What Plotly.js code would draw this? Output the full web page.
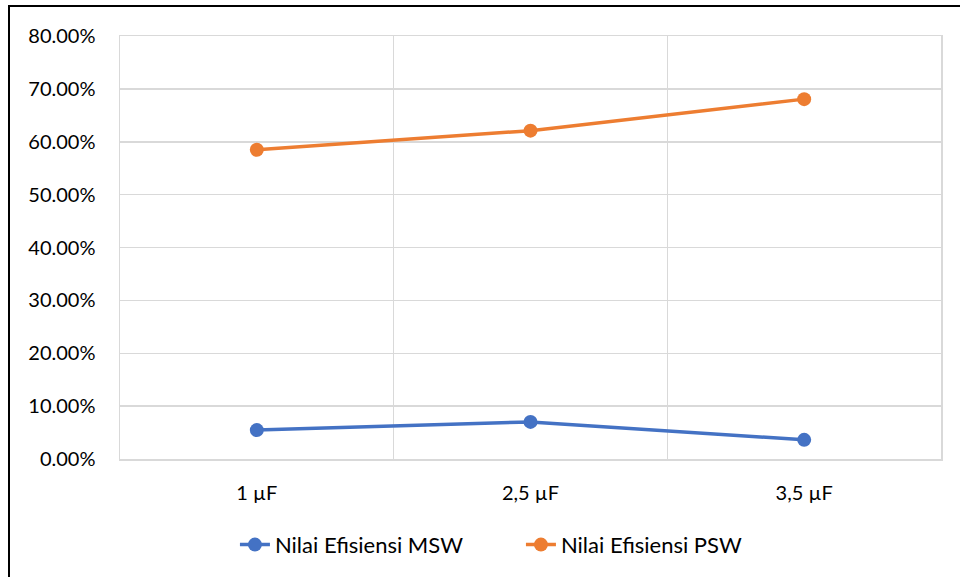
<!DOCTYPE html>
<html>
<head>
<meta charset="utf-8">
<script src="https://cdn.plot.ly/plotly-3.0.1.min.js"></script>
<style>
html,body{margin:0;padding:0;background:#fff;}
#wrap{position:relative;width:960px;height:577px;overflow:hidden;}
#chart{position:absolute;left:0;top:0;width:960px;height:577px;}
#frame{position:absolute;left:8px;top:5px;width:960px;height:600px;border-left:2px solid #000;border-top:2px solid #000;pointer-events:none;}
</style>
</head>
<body>
<div id="wrap"><div id="chart"></div><div id="frame"></div></div>
<script>
const categories = ["1 µF", "2,5 µF", "3,5 µF"];
const mswValues = [0.0547, 0.0702, 0.0362];
const pswValues = [0.5849, 0.6210, 0.6806];
const seriesNames = ["Nilai Efisiensi MSW", "Nilai Efisiensi PSW"];
const yTicks = [0, 0.1, 0.2, 0.3, 0.4, 0.5, 0.6, 0.7, 0.8];

const font = {family: "Lato, 'Open Sans', sans-serif", size: 20, color: "#000"};
const legendFont = {family: "Lato, 'Open Sans', sans-serif", size: 22, color: "#000"};

const traces = [
  {x: categories, y: mswValues, name: seriesNames[0], type: "scatter", mode: "lines+markers",
   line: {color: "#4472C4", width: 3.5}, marker: {color: "#4472C4", size: 14}},
  {x: categories, y: pswValues, name: seriesNames[1], type: "scatter", mode: "lines+markers",
   line: {color: "#ED7D31", width: 3.5}, marker: {color: "#ED7D31", size: 14}}
];

const layout = {
  width: 960, height: 577,
  margin: {l: 120, r: 19, t: 36, b: 117},
  paper_bgcolor: "#fff", plot_bgcolor: "#fff",
  font: font,
  showlegend: true,
  legend: {orientation: "h", x: 0.14, xanchor: "left", y: -0.2, yanchor: "middle",
           font: legendFont, entrywidth: 241, entrywidthmode: "pixels", tracegroupgap: 0},
  xaxis: {type: "category", range: [-0.5, 2.5], tickson: "boundaries", showgrid: true, gridcolor: "#d9d9d9", gridwidth: 1.5,
          showline: true, linecolor: "#d9d9d9", linewidth: 1.5, mirror: true,
          ticks: "", ticklabelstandoff: 15, tickfont: font,
          zeroline: false, fixedrange: true},
  yaxis: {range: [0, 0.8], tickvals: yTicks, tickformat: ".2%", showgrid: true, gridcolor: "#d9d9d9", gridwidth: 1.5,
          showline: true, linecolor: "#d9d9d9", linewidth: 1.5, mirror: true,
          ticks: "outside", ticklen: 19, tickcolor: "rgba(0,0,0,0)", tickfont: font,
          zeroline: false, fixedrange: true}
};

Plotly.newPlot("chart", traces, layout, {displayModeBar: false, staticPlot: true});
</script>
</body>
</html>
